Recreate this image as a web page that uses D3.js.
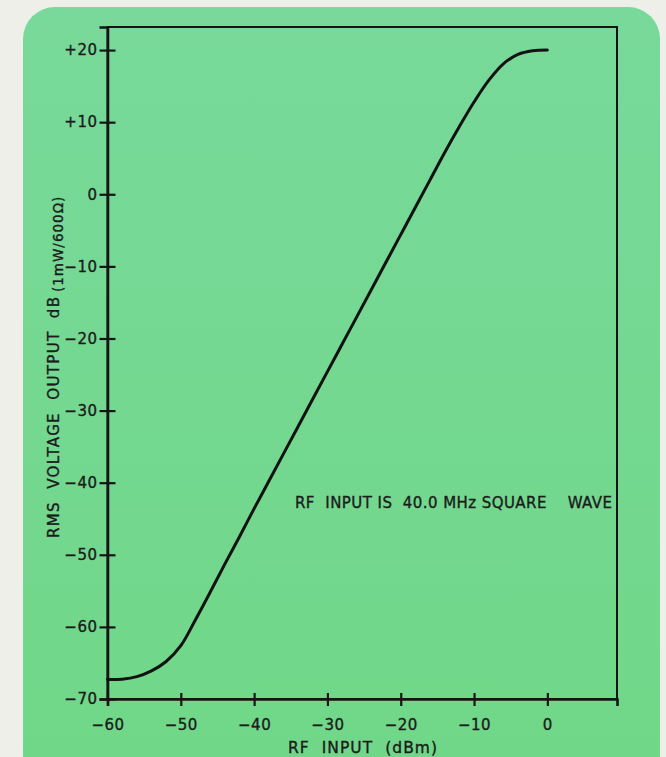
<!DOCTYPE html>
<html>
<head>
<meta charset="utf-8">
<script src="https://cdn.jsdelivr.net/npm/d3@7"></script>
<style>
  html, body { margin: 0; padding: 0; background: #efefea; }
  svg { display: block; }
  text { font-family: "DejaVu Sans", "Liberation Sans", sans-serif; fill: #1b1b1b; stroke: #1b1b1b; stroke-width: 0.35px; }
</style>
</head>
<body>
<svg id="chart" width="666" height="757"></svg>
<script>
// ---- data ----
const rfInput = [-60, -58, -56, -54, -52, -50, -48, -46, -44, -42, -40, -38, -36, -34, -32, -30,
                 -28, -26, -24, -22, -20, -18, -16, -14, -12, -10, -8, -6, -4, -2, 0];
const rmsOutput = [-67.3, -67.25, -66.9, -66.1, -64.8, -62.6, -59.0, -55.2, -51.3, -47.5, -43.6,
                   -39.8, -36.0, -32.2, -28.4, -24.6, -20.8, -17.0, -13.2, -9.4, -5.6, -1.8,
                   2.0, 5.8, 9.4, 12.8, 15.8, 18.1, 19.4, 19.9, 20.0];
const xTickValues = [-60, -50, -40, -30, -20, -10, 0];
const xTickLabels = ["\u221260", "\u221250", "\u221240", "\u221230", "\u221220", "\u221210", "0"];
const yTickValues = [20, 10, 0, -10, -20, -30, -40, -50, -60, -70];
const yTickLabels = ["+20", "+10", "0", "\u221210", "\u221220", "\u221230", "\u221240", "\u221250", "\u221260", "\u221270"];
const xTitle = "RF  INPUT  (dBm)";
const yTitleMain = "RMS  VOLTAGE  OUTPUT  dB";
const yTitleSub = "(1mW/600\u03A9)";
const annotation = "RF  INPUT IS  40.0 MHz SQUARE    WAVE";

// ---- layout ----
const svg = d3.select("#chart");
const x = d3.scaleLinear().domain([-60, 9.5]).range([107.5, 617]);
const y = d3.scaleLinear().domain([-70, 23.2]).range([699, 27]);

// background card
const defs = svg.append("defs");
const grad = defs.append("linearGradient").attr("id", "bg").attr("x1", 0).attr("y1", 0).attr("x2", 0).attr("y2", 1);
grad.append("stop").attr("offset", "0%").attr("stop-color", "#78d99a");
grad.append("stop").attr("offset", "100%").attr("stop-color", "#70d787");
svg.append("rect").attr("x", 23).attr("y", 7).attr("width", 637).attr("height", 800)
  .attr("rx", 32).attr("ry", 32).attr("fill", "url(#bg)");

// frame
svg.append("rect")
  .attr("x", x(-60)).attr("y", y(23.2))
  .attr("width", x(9.5) - x(-60)).attr("height", y(-70) - y(23.2))
  .attr("fill", "none").attr("stroke", "#151515").attr("stroke-width", 2);

const fontFam = "DejaVu Sans, Liberation Sans, sans-serif";

// x axis
const xAxis = svg.append("g").attr("transform", `translate(0,${y(-70)})`)
  .call(d3.axisBottom(x).tickValues(xTickValues)
    .tickFormat((d, i) => xTickLabels[i]).tickSize(7).tickPadding(14));
xAxis.select(".domain").attr("stroke", "#151515").attr("stroke-width", 2.6);
xAxis.selectAll(".tick line").attr("y1", -6).attr("y2", 7).attr("stroke", "#151515").attr("stroke-width", 2.2);
xAxis.selectAll(".tick text").attr("font-size", 15).attr("letter-spacing", 0.5)
  .attr("font-family", fontFam).attr("fill", "#1b1b1b")
  .attr("dy", "0.71em").attr("y", 20);

// y axis
const yAxis = svg.append("g").attr("transform", `translate(${x(-60)},0)`)
  .call(d3.axisLeft(y).tickValues(yTickValues)
    .tickFormat((d, i) => yTickLabels[i]).tickSize(8).tickPadding(11));
yAxis.select(".domain").attr("stroke", "#151515").attr("stroke-width", 2.6);
yAxis.selectAll(".tick line").attr("x1", 8).attr("x2", -8).attr("stroke", "#151515").attr("stroke-width", 2.2);
yAxis.selectAll(".tick text").attr("font-size", 15).attr("letter-spacing", 0.5)
  .attr("font-family", fontFam).attr("fill", "#1b1b1b")
  .attr("x", -10);

// curve
const line = d3.line().x((d, i) => x(rfInput[i])).y(d => y(d)).curve(d3.curveCatmullRom.alpha(0.5));
svg.append("path").datum(rmsOutput).attr("d", line)
  .attr("fill", "none").attr("stroke", "#121212").attr("stroke-width", 3).attr("stroke-linecap", "round");

// axis titles
svg.append("text").attr("x", 288).attr("y", 753)
  .attr("font-size", 15.5).attr("textLength", 149).attr("lengthAdjust", "spacing")
  .style("white-space", "pre").text(xTitle);

svg.append("text").attr("transform", "translate(59,538) rotate(-90)")
  .attr("font-size", 15).attr("textLength", 241).attr("lengthAdjust", "spacing")
  .style("white-space", "pre").text(yTitleMain);
svg.append("text").attr("transform", "translate(63,292) rotate(-90)")
  .attr("font-size", 13.5).attr("letter-spacing", 1)
  .text(yTitleSub);

// annotation
svg.append("text").attr("x", 295).attr("y", 508)
  .attr("font-size", 15).attr("textLength", 317).attr("lengthAdjust", "spacing")
  .style("white-space", "pre").text(annotation);
</script>
</body>
</html>
